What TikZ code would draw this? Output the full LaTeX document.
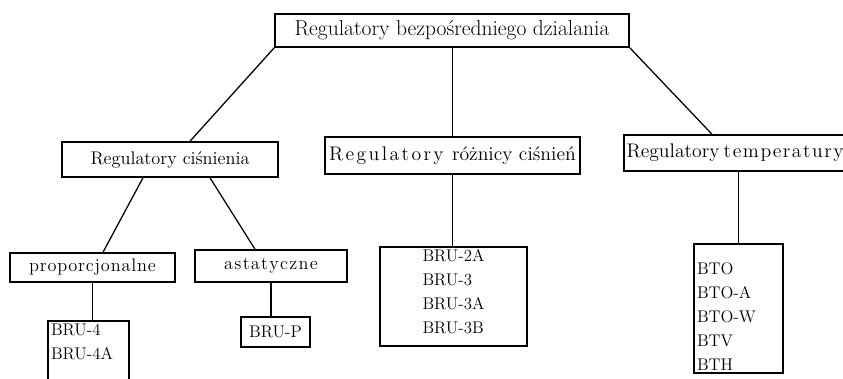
\documentclass[tikz,border=0pt]{standalone}
\usepackage{fontspec}
\usepackage{tikz}
\usetikzlibrary{positioning, calc}
\ExplSyntaxOn
\NewDocumentCommand\spread{mm}{\tl_map_inline:nn {#2} {##1\kern#1}\kern-#1}
\ExplSyntaxOff

\begin{document}
\begin{tikzpicture}[x=0.025cm, y=-0.025cm,
    group/.style={draw=black, line width=1.1pt, font=\fontsize{14}{16}\selectfont, inner sep=2pt},
    kind/.style={draw=black, line width=1.1pt, font=\fontsize{13}{15}\selectfont, inner sep=2pt},
    types/.style={draw=black, line width=1.1pt, font=\fontsize{12}{17}\selectfont, align=left, inner sep=2pt},
    link/.style={line width=0.9pt, color=black}
]
    \useasboundingbox (0,0) rectangle (843,378);
    \clip (0,0) rectangle (843,378);

    % top level
    \node[group, font=\fontsize{15.3}{17}\selectfont, minimum width=354*0.025cm, minimum height=33*0.025cm, name=top] at(452,30.5) {Regulatory bezpośredniego dzialania};

    % second level
    \node[group, font=\fontsize{13}{15}\selectfont, minimum width=216*0.025cm, minimum height=35*0.025cm, name=cis] at(170,159.5) {Regulatory ciśnienia};
    \node[group, minimum width=255*0.025cm, minimum height=37*0.025cm, name=roz] at(452.5,155.5) {\spread{1.7pt}{Regulatory}\hspace{6pt}różnicy ciśnień};
    \node[group, text width=243*0.025cm, align=left, minimum height=36*0.025cm, anchor=west, name=temp] at(623,153) {Regulatory\hspace{3pt}\spread{1.1pt}{temperatury}};

    % third level
    \node[kind, minimum width=165*0.025cm, minimum height=29*0.025cm, name=prop] at(92.5,267.5) {\spread{0.6pt}{proporcjonalne}};
    \node[kind, minimum width=152*0.025cm, minimum height=32*0.025cm, name=ast] at(271,266) {\spread{0.9pt}{astatyczne}};

    % types
    \node[types, text width=75*0.025cm, anchor=north, name=bru4] at(88.5,320) {BRU-4\\BRU-4A\rule[-30pt]{0pt}{0pt}};
    \node[types, minimum width=69*0.025cm, minimum height=30*0.025cm, name=brup] at(275.5,332) {BRU-P};
    \node[types, minimum width=147*0.025cm, minimum height=99*0.025cm, name=bru2a] at(453.5,296.5) {BRU-2A\\BRU-3\\BRU-3A\\BRU-3B\rule[-7pt]{0pt}{0pt}};
    \node[types, text width=83*0.025cm, minimum height=129*0.025cm, name=bto] at(738.5,308.5) {\rule{0pt}{20pt}BTO\\BTO-A\\BTO-W\\BTV\\BTH};

    \draw[link] (top.south west) -- ($(cis.north)+(20,0)$);
    \draw[link] (roz.north |- top.south) -- (roz.north);
    \draw[link] (top.south east) -- ($(temp.north west)+(89,0)$);

    \draw[link] ($(cis.south)+(-27,0)$) -- ($(prop.north)+(10.5,0)$);
    \draw[link] ($(cis.south)+(40,0)$) -- ($(ast.north)+(-16,0)$);

    \draw[link] (prop.south) -- (prop.south |- bru4.north);
    \draw[link] (ast.south) -- (ast.south |- brup.north);
    \draw[link] (roz.south) -- (roz.south |- bru2a.north);
    \draw[link] (bto.north |- temp.south) -- (bto.north);
\end{tikzpicture}
\end{document}
